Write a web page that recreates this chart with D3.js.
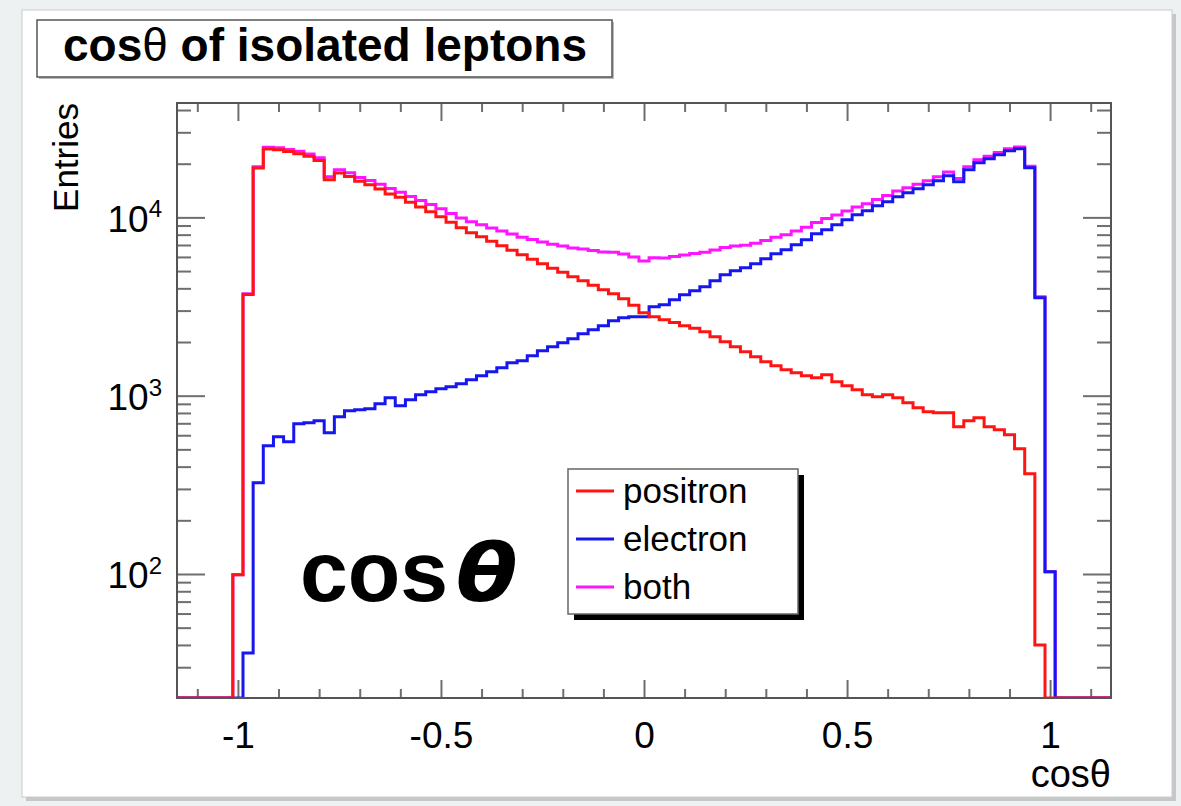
<!DOCTYPE html>
<html><head><meta charset="utf-8">
<script src="https://cdn.jsdelivr.net/npm/d3@7"></script>
<style>
html,body{margin:0;padding:0;background:#eef1f1;}
svg{display:block;}
text{font-family:"Liberation Sans", Arial, Helvetica, sans-serif;fill:#000;}
</style></head><body>
<svg id="chart" width="1181" height="806"></svg>
<script>
// Histogram binning: 81 bins of width 0.025, the first one starting at cos(theta) = -1.0125
const binStart = -1.0125;
const binWidth = 0.025;

// Entries per bin
const positron = [99, 3690, 18930, 24190, 23980, 23450, 22770, 21990, 20870, 16270,
  17750, 16980, 15920, 15250, 14430, 13530, 12950, 12140, 11440, 10770,
  10090, 9400, 8750, 8210, 7790, 7355, 6940, 6546, 6176, 5828,
  5498, 5188, 4928, 4650, 4416, 4167, 3931, 3734, 3499, 3218,
  2921, 2774, 2669, 2577, 2469, 2390, 2285, 2142, 2009, 1883,
  1765, 1654, 1551, 1473, 1398, 1346, 1295, 1262, 1312, 1198,
  1138, 1080, 1013, 987, 1013, 974, 913, 856, 813, 803,
  803, 670, 724, 752, 670, 645, 604, 504, 365, 40, 0];

const electron = [0, 36, 325, 524, 589, 552, 697, 706, 724, 620,
  762, 824, 835, 845, 902, 974, 879, 950, 1013, 1053,
  1095, 1123, 1168, 1229, 1295, 1364, 1436, 1531, 1571, 1676,
  1788, 1883, 1983, 2088, 2227, 2346, 2469, 2634, 2738, 2774,
  2774, 3157, 3240, 3455, 3686, 3880, 4087, 4416, 4771, 5025,
  5223, 5498, 5866, 6258, 6590, 7030, 7500, 8100, 8531, 9100,
  9707, 10350, 10900, 11630, 12250, 13070, 13750, 14490, 15250, 16070,
  17140, 15860, 18520, 20270, 21340, 22470, 23660, 24290, 19000, 3544, 103];

const both = [99, 3726, 19255, 24714, 24569, 24002, 23467, 22696, 21594, 16890,
  18512, 17804, 16755, 16095, 15332, 14504, 13829, 13090, 12453, 11823,
  11185, 10523, 9918, 9439, 9085, 8719, 8376, 8077, 7747, 7504,
  7286, 7071, 6911, 6738, 6643, 6513, 6400, 6368, 6237, 5992,
  5695, 5931, 5909, 6032, 6155, 6270, 6372, 6558, 6780, 6908,
  6988, 7152, 7417, 7731, 7988, 8376, 8795, 9362, 9843, 10298,
  10845, 11430, 11913, 12617, 13263, 14044, 14663, 15346, 16063, 16873,
  17943, 16530, 19244, 21022, 22010, 23115, 24264, 24794, 19365, 3584, 103];

const xTickValues = [-1, -0.5, 0, 0.5, 1];
const xTickLabels = ["-1", "-0.5", "0", "0.5", "1"];
const yTickValues = [100, 1000, 10000];
const yTickExponents = ["2", "3", "4"];
const legendLabels = ["positron", "electron", "both"];
const seriesColors = ["#ff1414", "#1616f0", "#ff14ff"];

const frame = {left: 177, right: 1111, top: 103, bottom: 698};

const svg = d3.select("#chart");

// canvas panel with a soft shadow on the right
svg.append("rect").attr("x", 26).attr("y", 14).attr("width", 1150).attr("height", 787).attr("fill", "#c6c8c8");
svg.append("rect").attr("x", 22).attr("y", 10).attr("width", 1150).attr("height", 787)
  .attr("fill", "#fff").attr("stroke", "#c9cbcb").attr("stroke-width", 1);

const x = d3.scaleLinear().domain([-1.15, 1.15]).range([frame.left, frame.right]);
const y = d3.scaleLog().domain([20.16, 43800]).range([frame.bottom, frame.top]);

// minor tick positions
const xMinor = d3.range(-11, 12).map(i => i / 10).filter(v => Math.abs(v * 2 - Math.round(v * 2)) > 1e-6);
const yMinor = [];
[10, 100, 1000, 10000].forEach(dec => { for (let m = 2; m <= 9; m++) { const v = m * dec; if (v >= 20.16 && v <= 43800) yMinor.push(v); } });

const tickColor = "#6e6e6e";
function styleAxis(g) {
  g.select(".domain").remove();
  g.selectAll(".tick line").attr("stroke", tickColor).attr("stroke-width", 2);
}

// bottom axis
svg.append("g").attr("transform", `translate(0,${frame.bottom})`)
  .call(d3.axisBottom(x).tickValues(xMinor).tickSizeInner(-9).tickSizeOuter(0).tickFormat(""))
  .call(styleAxis);
const xAx = svg.append("g").attr("transform", `translate(0,${frame.bottom})`)
  .call(d3.axisBottom(x).tickValues(xTickValues).tickSizeInner(-18).tickSizeOuter(0)
    .tickFormat((d, i) => xTickLabels[i]).tickPadding(0))
  .call(styleAxis);
xAx.selectAll(".tick text")
  .attr("y", 50).attr("dy", null)
  .style("font-size", "37px").attr("fill", "#000")
  .style("font-family", '"Liberation Sans", Arial, sans-serif');

// top axis (ticks only)
svg.append("g").attr("transform", `translate(0,${frame.top})`)
  .call(d3.axisTop(x).tickValues(xMinor).tickSizeInner(-9).tickSizeOuter(0).tickFormat(""))
  .call(styleAxis);
svg.append("g").attr("transform", `translate(0,${frame.top})`)
  .call(d3.axisTop(x).tickValues(xTickValues).tickSizeInner(-18).tickSizeOuter(0).tickFormat(""))
  .call(styleAxis);

// left axis
svg.append("g").attr("transform", `translate(${frame.left},0)`)
  .call(d3.axisLeft(y).tickValues(yMinor).tickSizeInner(-14).tickSizeOuter(0).tickFormat(""))
  .call(styleAxis);
const yAx = svg.append("g").attr("transform", `translate(${frame.left},0)`)
  .call(d3.axisLeft(y).tickValues(yTickValues).tickSizeInner(-28).tickSizeOuter(0)
    .tickFormat(() => "").tickPadding(0))
  .call(styleAxis);
yAx.selectAll(".tick text").each(function(d, i) {
  const t = d3.select(this);
  t.attr("x", -15).attr("y", 14).attr("dy", null)
    .attr("text-anchor", "end").style("font-size", "37px").attr("fill", "#000")
    .style("font-family", '"Liberation Sans", Arial, sans-serif');
  t.append("tspan").text("10");
  t.append("tspan").attr("dy", "-0.6em").style("font-size", "24px").text(yTickExponents[i]);
});

// right axis (ticks only)
svg.append("g").attr("transform", `translate(${frame.right},0)`)
  .call(d3.axisRight(y).tickValues(yMinor).tickSizeInner(-14).tickSizeOuter(0).tickFormat(""))
  .call(styleAxis);
svg.append("g").attr("transform", `translate(${frame.right},0)`)
  .call(d3.axisRight(y).tickValues(yTickValues).tickSizeInner(-28).tickSizeOuter(0).tickFormat(""))
  .call(styleAxis);

// histograms (empty bins rest on the lower edge of the frame)
svg.append("clipPath").attr("id", "plotClip").append("rect")
  .attr("x", frame.left).attr("y", frame.top - 2)
  .attr("width", frame.right - frame.left).attr("height", frame.bottom - frame.top + 2);

const yFloor = y.domain()[0];
function stepCorners(values) {
  const floorY = y(yFloor);
  const pts = [[x(-1.15), floorY], [x(binStart), floorY]];
  values.forEach((v, i) => {
    const lo = binStart + i * binWidth, hi = lo + binWidth;
    const yy = v > 0 ? y(Math.max(v, yFloor)) : floorY;
    pts.push([x(lo), yy], [x(hi), yy]);
  });
  pts.push([x(binStart + values.length * binWidth), floorY], [x(1.15), floorY]);
  return pts;
}
const line = d3.line();
const plot = svg.append("g").attr("clip-path", "url(#plotClip)");
[[both, 2], [electron, 1], [positron, 0]].forEach(([vals, ci]) => {
  plot.append("path").attr("d", line(stepCorners(vals)))
    .attr("fill", "none").attr("stroke", seriesColors[ci]).attr("stroke-width", 3)
    .attr("stroke-linejoin", "miter");
});

// frame
svg.append("rect").attr("x", frame.left).attr("y", frame.top)
  .attr("width", frame.right - frame.left).attr("height", frame.bottom - frame.top)
  .attr("fill", "none").attr("stroke", "#555").attr("stroke-width", 2);

// axis titles
svg.append("text").attr("text-anchor", "end")
  .attr("transform", `translate(78,${frame.top}) rotate(-90)`)
  .style("font-size", "35px").text("Entries");
const xt = svg.append("text").attr("text-anchor", "end")
  .attr("x", frame.right).attr("y", 787)
  .style("font-size", "38px");
xt.append("tspan").text("cos");
xt.append("tspan").text("θ");

// title box
svg.append("rect").attr("x", 39).attr("y", 22).attr("width", 575).attr("height", 57).attr("fill", "#bbb");
svg.append("rect").attr("x", 37).attr("y", 20).attr("width", 575).attr("height", 57)
  .attr("fill", "#fff").attr("stroke", "#555").attr("stroke-width", 1.5);
const title = svg.append("text").attr("text-anchor", "middle")
  .attr("x", 325).attr("y", 61)
  .style("font-size", "46px").style("font-weight", "bold");
title.append("tspan").text("cos");
title.append("tspan").style("font-weight", "normal").text("θ");
title.append("tspan").text(" of isolated leptons");

// legend
const lg = {x: 568, y: 469, w: 230, h: 145};
svg.append("rect").attr("x", lg.x + 6).attr("y", lg.y + 6).attr("width", lg.w).attr("height", lg.h).attr("fill", "#000");
svg.append("rect").attr("x", lg.x).attr("y", lg.y).attr("width", lg.w).attr("height", lg.h)
  .attr("fill", "#fff").attr("stroke", "#666").attr("stroke-width", 1.5);
const legendRows = [491, 539, 587];
legendLabels.forEach((lab, i) => {
  svg.append("line").attr("x1", 576).attr("x2", 614).attr("y1", legendRows[i]).attr("y2", legendRows[i])
    .attr("stroke", seriesColors[i]).attr("stroke-width", 3);
  svg.append("text").attr("x", 623).attr("y", legendRows[i] + 12)
    .style("font-size", "35px").text(lab);
});

// large annotation
svg.append("text").attr("x", 300).attr("y", 601)
  .style("font-size", "86px").style("font-weight", "bold").text("cos");
svg.append("text").attr("transform", "translate(456,601) scale(1.12,1)")
  .style("font-family", '"DejaVu Sans", sans-serif')
  .style("font-size", "80px").style("font-weight", "bold").style("font-style", "italic").text("θ");
</script>
</body></html>
